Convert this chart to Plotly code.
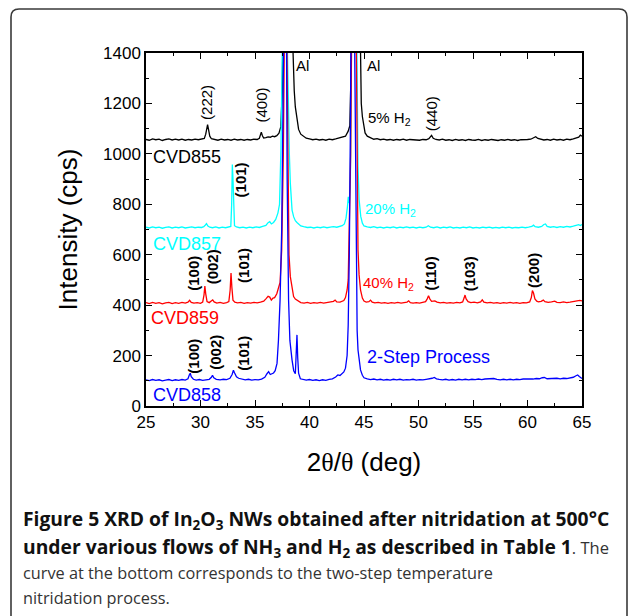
import plotly.graph_objects as go

# ---------------- data (2theta in deg, intensity in cps) ----------------
cvd855 = [(25.0,1057),(25.3,1054),(25.6,1059),(25.9,1056),(26.2,1058),(26.5,1053),(26.8,1057),(27.1,1059),(27.4,1055),(27.7,1058),(28.0,1055),(28.3,1058),(28.6,1054),(28.9,1057),(29.2,1055),(29.5,1058),(29.8,1056),(30.1,1058),(30.35,1061),(30.48,1078),(30.58,1104),(30.65,1116),(30.73,1098),(30.85,1070),(31.0,1060),(31.3,1057),(31.6,1054),(31.9,1058),(32.2,1055),(32.5,1057),(32.8,1054),(33.1,1058),(33.4,1055),(33.7,1057),(34.0,1054),(34.3,1057),(34.6,1055),(34.9,1058),(35.2,1057),(35.4,1062),(35.5,1076),(35.58,1086),(35.68,1072),(35.8,1063),(36.0,1064),(36.2,1067),(36.4,1066),(36.6,1070),(36.8,1068),(37.0,1072),(37.2,1082),(37.37,1108),(37.5,1250),(37.6,1500),(37.75,2500),(38.0,3000),(38.3,2500),(38.42,1500),(38.5,1350),(38.6,1250),(38.7,1186),(38.85,1130),(39.0,1097),(39.2,1078),(39.45,1068),(39.7,1062),(40.0,1059),(40.3,1056),(40.6,1058),(40.9,1055),(41.2,1057),(41.5,1054),(41.8,1058),(42.1,1056),(42.4,1059),(42.7,1062),(43.0,1064),(43.3,1070),(43.55,1090),(43.7,1112),(43.8,1300),(43.9,1800),(44.2,3000),(44.55,1800),(44.65,1400),(44.75,1200),(44.85,1148),(45.0,1100),(45.1,1083),(45.3,1070),(45.6,1063),(45.9,1058),(46.2,1060),(46.5,1056),(46.8,1058),(47.1,1055),(47.4,1057),(47.7,1054),(48.0,1057),(48.3,1055),(48.6,1058),(48.9,1054),(49.2,1057),(49.5,1055),(49.8,1056),(50.1,1054),(50.4,1057),(50.7,1056),(50.95,1060),(51.1,1068),(51.2,1073),(51.35,1062),(51.6,1057),(51.9,1055),(52.2,1058),(52.5,1054),(52.8,1056),(53.1,1053),(53.4,1057),(53.7,1054),(54.0,1056),(54.3,1053),(54.6,1057),(54.9,1055),(55.2,1054),(55.5,1057),(55.8,1053),(56.1,1056),(56.4,1054),(56.7,1057),(57.0,1055),(57.3,1053),(57.6,1056),(57.9,1054),(58.2,1057),(58.5,1054),(58.8,1056),(59.1,1053),(59.4,1056),(59.7,1055),(60.0,1057),(60.3,1058),(60.55,1064),(60.75,1068),(60.95,1061),(61.2,1058),(61.5,1055),(61.8,1057),(62.1,1054),(62.4,1058),(62.7,1055),(63.0,1057),(63.3,1054),(63.6,1058),(63.9,1056),(64.2,1059),(64.5,1062),(64.7,1066),(64.85,1074),(65.0,1070)]

cvd857 = [(25.0,709),(25.3,706),(25.6,710),(25.9,707),(26.2,709),(26.5,705),(26.8,708),(27.1,710),(27.4,706),(27.7,709),(28.0,707),(28.3,710),(28.6,706),(28.9,708),(29.2,710),(29.5,707),(29.8,709),(30.1,708),(30.3,711),(30.45,718),(30.55,723),(30.68,714),(30.85,709),(31.1,707),(31.4,710),(31.7,706),(32.0,709),(32.3,707),(32.6,710),(32.78,712),(32.86,800),(32.92,958),(32.98,900),(33.04,760),(33.12,715),(33.3,710),(33.6,707),(33.9,709),(34.2,706),(34.5,709),(34.8,707),(35.1,710),(35.4,708),(35.7,712),(36.0,716),(36.2,727),(36.35,731),(36.5,722),(36.7,728),(36.9,740),(37.1,765),(37.25,800),(37.38,1020),(37.5,1400),(37.6,3000),(37.9,3000),(37.98,1400),(38.05,1200),(38.15,1000),(38.24,884),(38.4,777),(38.55,750),(38.7,735),(38.85,728),(39.0,720),(39.2,714),(39.47,711),(39.8,708),(40.1,709),(40.4,706),(40.7,709),(41.0,707),(41.3,710),(41.6,707),(41.9,709),(42.2,711),(42.5,709),(42.8,713),(43.0,715),(43.2,722),(43.35,745),(43.48,790),(43.56,830),(43.65,805),(43.75,900),(43.85,1400),(43.95,3000),(44.25,3000),(44.35,1400),(44.45,950),(44.55,820),(44.7,752),(44.85,725),(45.0,714),(45.3,710),(45.6,708),(45.9,711),(46.2,707),(46.5,709),(46.8,706),(47.1,709),(47.4,707),(47.7,710),(48.0,706),(48.3,709),(48.6,707),(48.9,710),(49.2,707),(49.5,709),(49.8,706),(50.1,709),(50.4,707),(50.7,709),(50.9,715),(51.1,709),(51.4,707),(51.7,710),(52.0,706),(52.3,709),(52.6,707),(52.9,710),(53.2,706),(53.5,708),(53.8,706),(54.1,709),(54.4,707),(54.7,710),(55.0,706),(55.3,708),(55.6,706),(55.9,709),(56.2,707),(56.5,709),(56.8,706),(57.1,708),(57.4,706),(57.7,709),(58.0,707),(58.3,709),(58.6,706),(58.9,708),(59.2,707),(59.5,709),(59.8,707),(60.1,709),(60.4,712),(60.55,717),(60.7,711),(61.0,709),(61.3,712),(61.5,720),(61.65,722),(61.8,712),(62.1,709),(62.4,711),(62.7,708),(63.0,711),(63.3,709),(63.6,712),(63.9,710),(64.2,713),(64.5,715),(64.7,719),(64.85,716),(65.0,720)]

cvd859 = [(25.0,410),(25.3,406),(25.6,411),(25.9,407),(26.2,410),(26.5,405),(26.8,409),(27.1,411),(27.4,406),(27.7,410),(28.0,407),(28.3,411),(28.6,408),(28.85,412),(29.0,419),(29.15,411),(29.4,408),(29.7,410),(30.0,407),(30.2,412),(30.32,440),(30.4,476),(30.48,445),(30.6,414),(30.8,410),(31.0,416),(31.12,421),(31.25,413),(31.5,408),(31.8,411),(32.1,407),(32.4,410),(32.6,414),(32.72,460),(32.8,527),(32.88,470),(32.98,420),(33.15,412),(33.4,409),(33.7,411),(34.0,407),(34.3,410),(34.6,408),(34.9,411),(35.2,409),(35.5,412),(35.8,416),(36.0,425),(36.2,435),(36.35,432),(36.5,420),(36.65,428),(36.8,430),(37.0,445),(37.15,470),(37.3,490),(37.45,620),(37.6,1000),(37.68,1400),(37.75,3000),(37.85,3000),(37.93,1400),(38.02,900),(38.12,600),(38.24,513),(38.4,460),(38.54,434),(38.7,424),(38.85,420),(39.0,414),(39.2,410),(39.5,408),(39.8,411),(40.1,407),(40.4,410),(40.7,408),(41.0,411),(41.3,408),(41.6,410),(41.9,412),(42.2,415),(42.35,420),(42.5,413),(42.8,412),(43.0,415),(43.15,418),(43.3,430),(43.45,460),(43.55,500),(43.65,700),(43.78,1000),(43.85,1400),(43.95,3000),(44.2,3000),(44.3,1400),(44.37,900),(44.45,619),(44.55,520),(44.68,460),(44.85,428),(45.0,416),(45.2,412),(45.45,414),(45.6,420),(45.75,412),(46.0,409),(46.3,411),(46.6,408),(46.9,410),(47.2,407),(47.5,410),(47.8,408),(48.1,411),(48.4,408),(48.7,410),(48.95,412),(49.1,417),(49.25,410),(49.5,408),(49.8,410),(50.1,408),(50.4,411),(50.65,414),(50.8,425),(50.92,437),(51.05,424),(51.2,415),(51.5,417),(51.7,412),(52.0,409),(52.3,411),(52.6,408),(52.9,410),(53.2,408),(53.5,411),(53.8,409),(54.05,413),(54.18,428),(54.27,440),(54.37,425),(54.55,414),(54.8,410),(55.1,412),(55.4,409),(55.7,413),(55.85,421),(56.0,412),(56.3,409),(56.6,411),(56.9,408),(57.2,410),(57.5,407),(57.8,410),(58.1,408),(58.4,411),(58.7,408),(59.0,410),(59.3,407),(59.6,410),(59.9,409),(60.2,413),(60.35,430),(60.45,458),(60.55,448),(60.68,425),(60.85,416),(61.0,413),(61.25,415),(61.45,420),(61.6,414),(61.9,411),(62.2,413),(62.5,416),(62.7,411),(63.0,410),(63.3,413),(63.6,410),(63.9,412),(64.2,414),(64.5,416),(64.8,419),(65.0,417)]

cvd858 = [(25.0,104),(25.3,101),(25.6,105),(25.9,102),(26.2,104),(26.5,100),(26.8,103),(27.1,105),(27.4,101),(27.7,104),(28.0,102),(28.3,105),(28.6,103),(28.85,108),(28.98,124),(29.06,130),(29.15,116),(29.35,106),(29.6,103),(29.9,105),(30.2,102),(30.5,105),(30.8,106),(31.0,114),(31.1,122),(31.22,112),(31.45,106),(31.8,104),(32.1,106),(32.4,105),(32.7,110),(32.9,125),(33.02,142),(33.12,132),(33.3,116),(33.5,110),(33.8,106),(34.1,104),(34.4,106),(34.7,103),(35.0,105),(35.3,104),(35.6,107),(35.9,114),(36.1,128),(36.25,136),(36.4,125),(36.55,127),(36.7,131),(36.85,140),(37.02,169),(37.15,260),(37.3,420),(37.45,700),(37.55,1000),(37.62,1400),(37.72,3000),(37.8,3000),(37.87,1400),(37.95,900),(38.08,420),(38.2,260),(38.4,182),(38.55,140),(38.7,128),(38.8,230),(38.85,282),(38.92,190),(39.0,130),(39.16,108),(39.4,105),(39.7,103),(40.0,105),(40.3,102),(40.6,104),(40.9,101),(41.2,104),(41.5,102),(41.8,106),(42.1,108),(42.4,115),(42.6,123),(42.8,121),(43.0,128),(43.15,135),(43.3,150),(43.45,200),(43.55,320),(43.65,600),(43.75,1100),(43.8,1400),(43.9,3000),(44.05,3000),(44.15,1400),(44.22,900),(44.3,500),(44.37,300),(44.45,222),(44.55,180),(44.68,143),(44.85,122),(45.0,112),(45.3,108),(45.6,105),(45.9,107),(46.2,104),(46.5,106),(46.8,103),(47.1,105),(47.4,103),(47.7,106),(48.0,104),(48.3,106),(48.6,103),(48.9,105),(49.2,104),(49.5,106),(49.8,103),(50.1,105),(50.4,104),(50.7,106),(51.0,107),(51.25,110),(51.45,113),(51.65,108),(51.9,106),(52.2,104),(52.5,106),(52.8,103),(53.1,105),(53.4,103),(53.7,106),(54.0,104),(54.3,106),(54.6,104),(54.9,106),(55.2,105),(55.5,107),(55.8,105),(56.1,107),(56.4,108),(56.7,111),(56.9,109),(57.2,106),(57.5,104),(57.8,106),(58.1,104),(58.4,106),(58.7,104),(59.0,106),(59.3,105),(59.6,107),(59.9,106),(60.2,108),(60.5,107),(60.8,109),(61.1,108),(61.35,112),(61.55,113),(61.8,108),(62.1,109),(62.4,107),(62.7,110),(63.0,108),(63.3,110),(63.6,109),(63.9,111),(64.2,114),(64.45,120),(64.6,123),(64.75,117),(64.9,111),(65.0,109)]

series_names = ["CVD855", "CVD857", "CVD859", "CVD858"]
series_data = [cvd855, cvd857, cvd859, cvd858]
series_colors = ["#000000", "#00FFFF", "#FF0000", "#0000FF"]

x_ticks = [25, 30, 35, 40, 45, 50, 55, 60, 65]
y_ticks = [0, 200, 400, 600, 800, 1000, 1200, 1400]

caption_lines = [
    "<b>Figure 5 XRD of In<sub>2</sub>O<sub>3</sub> NWs obtained after nitridation at 500°C</b>",
    "<b>under various flows of NH<sub>3</sub> and H<sub>2</sub> as described in Table 1</b>"
    "<span style='font-size:16.5px;color:#333'>. The</span>",
    "curve at the bottom corresponds to the two-step temperature",
    "nitridation process.",
]

# ---------------- figure ----------------
W, H = 629, 616
ML, MR, MT, MB = 146, 47, 53, 210
PW, PH = W - ML - MR, H - MT - MB

def px(x):
    return (x - ML) / PW

def py(y):
    return (H - MB - y) / PH

FONT = "Liberation Sans"
CAPFONT = "Open Sans"

fig = go.Figure()
for name, data, color in zip(series_names, series_data, series_colors):
    xs = [p[0] for p in data]
    ys = [p[1] for p in data]
    fig.add_trace(go.Scatter(x=xs, y=ys, mode="lines", name=name,
                             line=dict(color=color, width=1.3)))

ann = []
def label(text, x, y, color="#000", size=15, angle=0, xanchor="center", bold=False):
    t = f"<b>{text}</b>" if bold else text
    ann.append(dict(text=t, x=x, y=y, xref="x", yref="y", showarrow=False,
                    textangle=angle, xanchor=xanchor, yanchor="middle",
                    font=dict(family=FONT, size=size, color=color)))

# black (5% H2)
label("(222)", 30.6, 1202, angle=-90)
label("(400)", 35.6, 1194, angle=-90)
label("Al", 39.37, 1349, size=15)
label("Al", 45.83, 1349, size=15)
label("5% H<sub>2</sub>", 45.15, 1140, xanchor="left")
label("(440)", 51.17, 1158, angle=-90)
label("CVD855", 25.45, 989, size=18, xanchor="left")
# cyan (20% H2)
label("(101)", 33.7, 898, angle=-90, bold=True)
label("20% H<sub>2</sub>", 44.95, 780, color="#00FFFF", xanchor="left")
label("CVD857", 25.45, 643, color="#00FFFF", size=18, xanchor="left")
# red (40% H2)
label("(100)", 29.28, 527, angle=-90, bold=True)
label("(002)", 31.1, 552, angle=-90, bold=True)
label("(101)", 34.0, 556, angle=-90, bold=True)
label("40% H<sub>2</sub>", 44.75, 484, color="#FF0000", xanchor="left")
label("(110)", 51.07, 526, angle=-90, bold=True)
label("(103)", 54.63, 526, angle=-90, bold=True)
label("(200)", 60.6, 536, angle=-90, bold=True)
label("CVD859", 25.3, 351, color="#FF0000", size=18, xanchor="left")
# blue (2-step)
label("(100)", 29.32, 196, angle=-90, bold=True)
label("(002)", 31.42, 215, angle=-90, bold=True)
label("(101)", 33.95, 209, angle=-90, bold=True)
label("2-Step Process", 45.1, 196, color="#0000FF", size=18, xanchor="left")
label("CVD858", 25.45, 44, color="#0000FF", size=18, xanchor="left")

# caption
cap_y = [519, 547, 573, 598]
cap_size = [19.3, 19.3, 16.3, 16.3]
for i, (line, yy) in enumerate(zip(caption_lines, cap_y)):
    ann.append(dict(text=line, x=px(21), y=py(yy), xref="paper", yref="paper",
                    showarrow=False, xanchor="left", yanchor="middle", align="left",
                    font=dict(family=CAPFONT, size=cap_size[i],
                              color="#111" if i < 2 else "#333")))

# frame with rounded top corners
r = 8
fx0, fx1, fy0, fy1 = 11, 627, 9, 640
path = (f"M {px(fx0)},{py(fy1)} L {px(fx0)},{py(fy0 + r)} "
        f"Q {px(fx0)},{py(fy0)} {px(fx0 + r)},{py(fy0)} "
        f"L {px(fx1 - r)},{py(fy0)} Q {px(fx1)},{py(fy0)} {px(fx1)},{py(fy0 + r)} "
        f"L {px(fx1)},{py(fy1)}")

fig.update_layout(
    width=W, height=H,
    margin=dict(l=ML, r=MR, t=MT, b=MB),
    paper_bgcolor="white", plot_bgcolor="white",
    showlegend=False,
    font=dict(family=FONT),
    annotations=ann,
    shapes=[dict(type="path", path=path, xref="paper", yref="paper",
                 line=dict(color="#3a3a3a", width=1.6), layer="above")],
    xaxis=dict(range=[25, 65], tickvals=x_ticks, ticks="inside", ticklen=6, tickwidth=1.3,
               tickcolor="black", showline=True, linecolor="black", linewidth=1.5,
               mirror="allticks", showgrid=False, zeroline=False,
               minor=dict(dtick=2.5, ticks="inside", ticklen=3.5, tickwidth=1.2, tickcolor="black",
                          showgrid=False),
               tickfont=dict(family=FONT, size=17, color="black"),
               title=dict(text="2<span style='font-family:Liberation Serif'>θ</span>/<span style='font-family:Liberation Serif'>θ</span> (deg)",
                          font=dict(family=FONT, size=26, color="black"), standoff=22)),
    yaxis=dict(range=[0, 1400], tickvals=y_ticks, ticks="inside", ticklen=6, tickwidth=1.3,
               tickcolor="black", showline=True, linecolor="black", linewidth=1.5,
               mirror="allticks", showgrid=False, zeroline=False,
               minor=dict(dtick=100, ticks="inside", ticklen=3.5, tickwidth=1.2, tickcolor="black",
                          showgrid=False),
               tickfont=dict(family=FONT, size=17, color="black"),
               title=dict(text="Intensity (cps)", font=dict(family=FONT, size=26, color="black"),
                          standoff=18)),
)

fig.write_html("out.html")
